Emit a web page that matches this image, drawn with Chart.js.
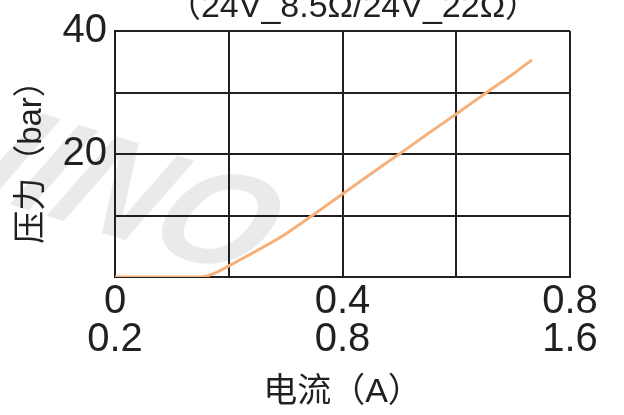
<!DOCTYPE html>
<html>
<head>
<meta charset="utf-8">
<script src="https://cdn.jsdelivr.net/npm/chart.js@4"></script>
<style>
  html, body { margin: 0; padding: 0; background: #ffffff; }
  #wrap { position: relative; width: 624px; height: 415px; }
</style>
</head>
<body>
<div id="wrap"><canvas id="c"></canvas></div>
<script>
// ---- data ----
const chartTitle = '（24V_8.5Ω/24V_22Ω）';
const xAxisTitle = '电流（A）';
const yAxisTitle = '压力（bar）';
const currentA = [0, 0.05, 0.10, 0.15, 0.175, 0.20, 0.25, 0.30, 0.35, 0.40, 0.45, 0.50, 0.55, 0.60, 0.65, 0.70, 0.733];
const pressureBar = [0, 0, 0, 0, 0.6, 1.8, 4.3, 7.0, 10.2, 13.5, 16.8, 20.0, 23.3, 26.5, 29.8, 33.0, 35.3];
const xTickTop = ['0', '', '0.4', '', '0.8'];
const xTickBottom = ['0.2', '', '0.8', '', '1.6'];
const yTickLabels = ['', '', '20', '', '40'];

const FONT = '"Liberation Sans", Arial, "Noto Sans CJK SC", sans-serif';
const INK = '#231f20';

const points = currentA.map((x, i) => ({ x: x, y: pressureBar[i] }));

const watermark = {
  id: 'watermark',
  beforeDraw(chart) {
    const ctx = chart.ctx;
    ctx.save();
    ctx.fillStyle = '#e9eaeb';
    ctx.font = 'bold italic 140px ' + FONT;
    ctx.translate(-30, 192);
    ctx.rotate(0.30);
    ctx.transform(1, 0, -0.25, 1, 0, 0);
    ctx.textBaseline = 'alphabetic';
    ctx.fillText('IINO', 0, 0);
    ctx.restore();
  }
};

const topTitle = {
  id: 'topTitle',
  afterDraw(chart) {
    const ctx = chart.ctx;
    ctx.save();
    ctx.fillStyle = INK;
    ctx.font = '34px ' + FONT;
    ctx.textAlign = 'center';
    ctx.textBaseline = 'alphabetic';
    ctx.fillText(chartTitle, 353, 17);
    ctx.restore();
  }
};

new Chart(document.getElementById('c'), {
  type: 'line',
  data: {
    datasets: [{
      data: points,
      borderColor: '#f6b07a',
      borderWidth: 3,
      pointRadius: 0,
      fill: false,
      tension: 0.4,
      cubicInterpolationMode: 'monotone'
    }]
  },
  options: {
    responsive: true,
    maintainAspectRatio: false,
    animation: false,
    devicePixelRatio: 1,
    layout: { padding: { left: 0, right: 54, top: 31, bottom: 0 } },
    plugins: { legend: { display: false }, tooltip: { enabled: false }, title: { display: false } },
    scales: {
      x: {
        type: 'linear',
        min: 0,
        max: 0.8,
        ticks: {
          stepSize: 0.2,
          autoSkip: false,
          maxRotation: 0,
          padding: 6,
          color: INK,
          font: { family: FONT, size: 40, lineHeight: 0.95 },
          callback: (v, i) => xTickTop[i] ? [xTickTop[i], xTickBottom[i]] : ''
        },
        grid: { color: INK, lineWidth: 2, drawTicks: false },
        border: { color: INK, width: 2 },
        title: {
          display: true,
          text: xAxisTitle,
          color: INK,
          font: { family: FONT, size: 34, lineHeight: 1.2 },
          padding: { top: 0, bottom: 2 }
        },
        afterFit: (s) => { s.height = 138; }
      },
      y: {
        min: 0,
        max: 40,
        ticks: {
          stepSize: 10,
          autoSkip: false,
          padding: 8,
          color: INK,
          font: { family: FONT, size: 40, lineHeight: 1.0 },
          callback: (v, i) => yTickLabels[i]
        },
        grid: { color: INK, lineWidth: 2, drawTicks: false },
        border: { color: INK, width: 2 },
        title: {
          display: true,
          text: yAxisTitle,
          color: INK,
          font: { family: FONT, size: 33, lineHeight: 1.2 },
          padding: { top: 12, bottom: 0 }
        },
        afterFit: (s) => { s.width = 115; }
      }
    }
  },
  plugins: [watermark, topTitle]
});
</script>
</body>
</html>
